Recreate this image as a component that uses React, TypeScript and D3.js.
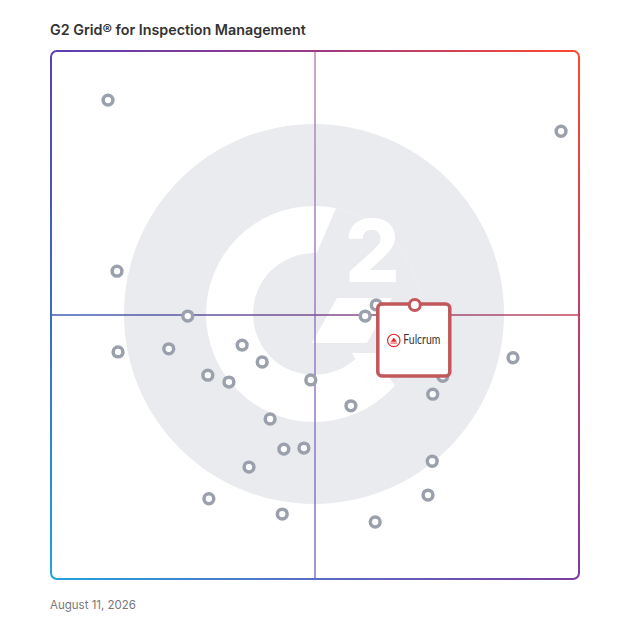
import * as d3 from 'd3';

// market presence (x) vs satisfaction (y), 0..100 as placed on the grid
const productX = [10.8, 96.6, 12.5, 25.9, 12.7, 22.3, 36.2, 40.0, 29.7, 33.7, 49.2, 41.5, 44.1, 47.9, 37.5, 29.9, 43.8, 61.4, 71.4, 72.2, 72.3, 56.8, 87.5, 74.2, 59.5, 61.6];
const productY = [90.7, 84.8, 58.3, 49.8, 43.0, 43.6, 44.3, 41.1, 38.6, 37.3, 37.7, 30.3, 24.6, 24.8, 21.2, 15.2, 12.3, 10.8, 15.9, 22.3, 35.0, 32.8, 41.9, 38.4, 49.8, 51.9];
const highlight = { name: 'Fulcrum', x: 68.9, y: 51.9 };

const TITLE = 'G2 Grid® for Inspection Management';
const DATE_LABEL = 'August 11, 2026';

const W = 628;
const left = 51;
const right = 579;
const top = 51;
const bottom = 579;

export default function App() {
  const x = d3.scaleLinear().domain([0, 100]).range([left, right]);
  const y = d3.scaleLinear().domain([0, 100]).range([bottom, top]);
  const cx = x(50) - 1;
  const cy = y(50) - 1;
  const r = 6;

  const ring = d3.arc()({ innerRadius: 61, outerRadius: 108, startAngle: 0, endAngle: 2 * Math.PI }) ?? '';
  const poly = (pts: number[][]) => 'M' + pts.map((p) => p.join(',')).join('L') + 'Z';
  const gap = poly([[42.7, -153.9], [-21.3, -4.8], [38, 39], [102, 150], [250, 150], [250, -160]]);
  const bar = poly([[-2, 29], [23, -16], [78, -16], [53, 29]]);
  const leg = poly([[38, 39], [61.6, 39], [108.4, 120], [84.7, 120]]);
  const gray = '#e9ebee';

  const hx = x(highlight.x);
  const hy = y(highlight.y);

  return (
    <div style={{ position: 'absolute', left: 0, top: 0 }}>
      <svg width={W} height={W} style={{ display: 'block', fontFamily: 'Inter, sans-serif' }}>
        <defs>
          <linearGradient id="gTop" gradientUnits="userSpaceOnUse" x1={left} y1={0} x2={right} y2={0}>
            <stop offset="0" stopColor="#5a3fb2" />
            <stop offset="0.5" stopColor="#9b3a86" />
            <stop offset="1" stopColor="#ff4a2b" />
          </linearGradient>
          <linearGradient id="gRight" gradientUnits="userSpaceOnUse" x1={0} y1={top} x2={0} y2={bottom}>
            <stop offset="0" stopColor="#ff4a2b" />
            <stop offset="0.5" stopColor="#c23d66" />
            <stop offset="1" stopColor="#7b3ea0" />
          </linearGradient>
          <linearGradient id="gBottom" gradientUnits="userSpaceOnUse" x1={left} y1={0} x2={right} y2={0}>
            <stop offset="0" stopColor="#1fa3dc" />
            <stop offset="0.5" stopColor="#5a6cc4" />
            <stop offset="1" stopColor="#7b3ea0" />
          </linearGradient>
          <linearGradient id="gLeft" gradientUnits="userSpaceOnUse" x1={0} y1={top} x2={0} y2={bottom}>
            <stop offset="0" stopColor="#5a3fb2" />
            <stop offset="0.5" stopColor="#3c6cc0" />
            <stop offset="1" stopColor="#1fa3dc" />
          </linearGradient>
          <linearGradient id="gV" gradientUnits="userSpaceOnUse" x1={0} y1={top} x2={0} y2={bottom}>
            <stop offset="0" stopColor="#b98ab8" />
            <stop offset="1" stopColor="#7d72cb" />
          </linearGradient>
          <linearGradient id="gH" gradientUnits="userSpaceOnUse" x1={left} y1={0} x2={right} y2={0}>
            <stop offset="0" stopColor="#3d5fb6" />
            <stop offset="0.5" stopColor="#7a4c8e" />
            <stop offset="1" stopColor="#c4485a" />
          </linearGradient>
          <clipPath id="logoClip">
            <circle r={108} />
          </clipPath>
        </defs>

        <text x={50} y={35} fontSize={14.3} fontWeight={600} fill="#333">
          {TITLE}
        </text>

        {/* G2 watermark */}
        <g transform={`translate(${cx},${cy})`}>
          <circle r={190} fill={gray} />
          <path d={ring} fill="#fff" />
          <g clipPath="url(#logoClip)">
            <path d={gap} fill={gray} />
            <path d={bar} fill="#fff" />
            <path d={leg} fill="#fff" />
          </g>
          <text x={58.5} y={-32} fontSize={86} fontWeight={800} fill="#fff" textAnchor="middle">
            2
          </text>
        </g>

        <line x1={x(50)} x2={x(50)} y1={top} y2={bottom} stroke="url(#gV)" strokeWidth={1.5} />
        <line x1={left} x2={right} y1={y(50)} y2={y(50)} stroke="url(#gH)" strokeWidth={1.5} />

        <g fill="none" strokeWidth={2}>
          <path d={`M${left},${top + r}A${r},${r} 0 0 1 ${left + r},${top}L${right - r},${top}`} stroke="url(#gTop)" />
          <path d={`M${right - r},${top}A${r},${r} 0 0 1 ${right},${top + r}L${right},${bottom - r}`} stroke="url(#gRight)" />
          <path d={`M${right},${bottom - r}A${r},${r} 0 0 1 ${right - r},${bottom}L${left + r},${bottom}`} stroke="url(#gBottom)" />
          <path d={`M${left + r},${bottom}A${r},${r} 0 0 1 ${left},${bottom - r}L${left},${top + r}`} stroke="url(#gLeft)" />
        </g>

        {productX.map((px, i) => (
          <circle key={i} cx={x(px)} cy={y(productY[i])} r={4.9} fill="#fff" stroke="#9aa1ad" strokeWidth={3.5} />
        ))}

        {/* highlighted product */}
        <g transform={`translate(${hx},${hy})`}>
          <rect x={-37} y={-1} width={72} height={72} rx={4} fill="#fff" stroke="#c1585c" strokeWidth={3.5} />
          <circle r={5.5} fill="#fff" stroke="#c1585c" strokeWidth={3} />
          <g transform="translate(-21,35.5)">
            <circle r={6.2} fill="#fff" stroke="#e3262d" strokeWidth={1.2} />
            <path d="M0,-3L3,1.3L-3,1.3Z" fill="#e3262d" />
            <line x1={-3.3} x2={3.3} y1={2.6} y2={2.6} stroke="#e3262d" strokeWidth={0.9} />
          </g>
          <text x={-11.5} y={39.5} fontSize={12.5} fill="#333" fontFamily="Lato, sans-serif" textLength={37} lengthAdjust="spacingAndGlyphs">
            {highlight.name}
          </text>
        </g>

        <text x={50} y={609} fontSize={11.5} fill="#777">
          {DATE_LABEL}
        </text>
      </svg>
    </div>
  );
}
